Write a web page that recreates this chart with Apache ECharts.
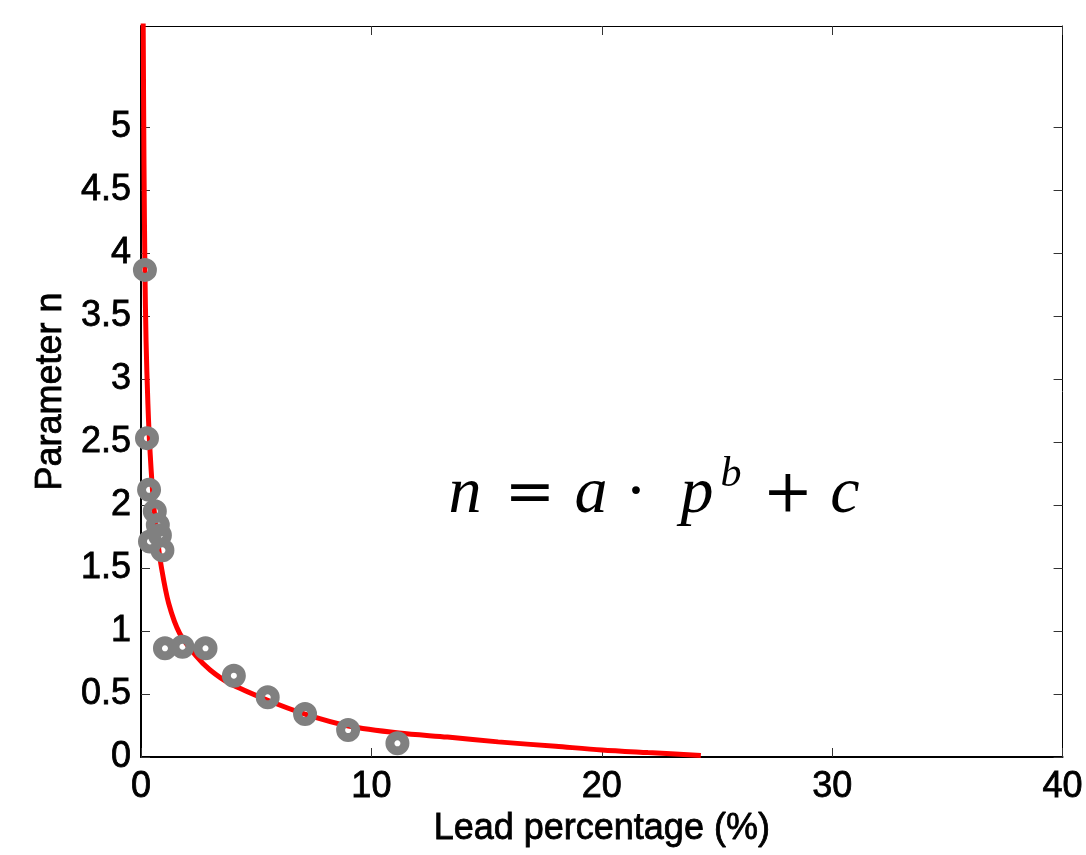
<!DOCTYPE html>
<html style="height: 100%">
<head>
  <meta charset="utf-8">
  <title>Parameter n vs lead percentage</title>
  <script src="https://cdn.jsdelivr.net/npm/echarts@6/dist/echarts.min.js"></script>
</head>
<body style="margin: 0">
  <div id="container" style="height: 855px; width: 1086px;"></div>
  <script type="text/javascript">

// measured points: [lead %, n]
var measured = [
  [0.17, 3.865], [0.26, 2.53], [0.35, 2.12], [0.60, 1.95],
  [0.73, 1.84], [0.82, 1.76], [0.39, 1.71], [0.93, 1.64],
  [1.04, 0.862], [1.80, 0.875], [2.80, 0.862], [4.03, 0.645],
  [5.50, 0.474], [7.12, 0.341], [8.99, 0.214], [11.13, 0.109]
];

// fitted curve
var fitCurve = [
  [0.08, 6.4], [0.095, 5.8], [0.13, 4.7], [0.17, 3.87], [0.22, 3.3],
  [0.30, 2.8], [0.40, 2.4], [0.55, 2.0], [0.70, 1.75], [0.89, 1.5],
  [1.2, 1.22], [1.68, 0.98], [2.4, 0.80], [3.0, 0.69], [3.84, 0.585],
  [5.5, 0.45], [7.12, 0.34], [9.0, 0.246], [11.2, 0.19], [13.3, 0.158],
  [15.5, 0.12], [18.0, 0.085], [20.0, 0.056], [22.0, 0.035], [24.3, 0.012]
];

var xTicks = [0, 10, 20, 30, 40];
var yTicks = [0, 0.5, 1, 1.5, 2, 2.5, 3, 3.5, 4, 4.5, 5];

var xTitle = 'Lead percentage (%)';
var yTitle = 'Parameter n';

var dom = document.getElementById('container');
var myChart = echarts.init(dom);

var labelFont = 'Liberation Sans, Arial, sans-serif';
var textStyle = {
  fontFamily: labelFont, fontSize: 36, color: '#000',
  textBorderColor: '#000', textBorderWidth: 0.8
};

// formula glyphs: [text, centre x, font, size, italic, dy]
var formula = [
  ['n', 465, 'Liberation Serif', 66, true, 0],
  ['=', 530, 'DejaVu Serif', 60, false, 0],
  ['a', 591, 'Liberation Serif', 66, true, 0],
  ['\u00b7', 636, 'DejaVu Serif', 60, false, 0],
  ['p', 697, 'Liberation Serif', 66, true, 0],
  ['b', 731, 'Liberation Serif', 42, true, -20],
  ['+', 788, 'DejaVu Serif', 60, false, 0],
  ['c', 845, 'Liberation Serif', 66, true, 0]
];

var graphics = formula.map(function (g) {
  return {
    type: 'text',
    x: g[1],
    y: 495 + g[5],
    z: 10,
    style: {
      text: g[0],
      fill: '#000',
      font: (g[4] ? 'italic ' : '') + g[3] + 'px "' + g[2] + '"',
      align: 'center',
      verticalAlign: 'middle'
    }
  };
});

function tickStyle() {
  return { inside: true, length: 9, lineStyle: { color: '#333', width: 1 } };
}

var option = {
  animation: false,
  grid: { left: 141, top: 26, right: 18, bottom: 98 },
  graphic: graphics,
  xAxis: [{
    type: 'value',
    position: 'bottom',
    min: 0, max: 40, interval: 10,
    name: xTitle,
    nameLocation: 'middle',
    nameGap: 52,
    nameTextStyle: textStyle,
    axisLine: { show: true, onZero: false, lineStyle: { color: '#000', width: 2 } },
    axisTick: Object.assign(tickStyle(), { customValues: xTicks }),
    axisLabel: Object.assign({ margin: 12, customValues: xTicks }, textStyle),
    splitLine: { show: false }
  }, {
    type: 'value',
    position: 'top',
    min: 0, max: 40, interval: 10,
    axisLine: { show: true, onZero: false, lineStyle: { color: '#000', width: 1 } },
    axisTick: Object.assign(tickStyle(), { customValues: xTicks }),
    axisLabel: { show: false },
    splitLine: { show: false }
  }],
  yAxis: [{
    type: 'value',
    position: 'left',
    min: 0, max: 5.8, interval: 0.5,
    name: yTitle,
    nameLocation: 'middle',
    nameGap: 68,
    nameTextStyle: textStyle,
    axisLine: { show: true, onZero: false, lineStyle: { color: '#000', width: 2 } },
    axisTick: Object.assign(tickStyle(), { customValues: yTicks }),
    axisLabel: Object.assign({ margin: 10, customValues: yTicks }, textStyle),
    splitLine: { show: false }
  }, {
    type: 'value',
    position: 'right',
    min: 0, max: 5.8, interval: 0.5,
    axisLine: { show: true, onZero: false, lineStyle: { color: '#000', width: 1 } },
    axisTick: Object.assign(tickStyle(), { customValues: yTicks }),
    axisLabel: { show: false },
    splitLine: { show: false }
  }],
  series: [{
    name: 'fit',
    type: 'line',
    data: fitCurve,
    smooth: 0.3,
    showSymbol: false,
    clip: true,
    lineStyle: { color: '#ff0000', width: 5 },
    z: 2
  }, {
    name: 'measured',
    type: 'scatter',
    data: measured,
    symbol: 'circle',
    symbolSize: 15,
    itemStyle: { color: 'rgba(0,0,0,0)', borderColor: '#808080', borderWidth: 9, opacity: 1 },
    z: 3
  }]
};

myChart.setOption(option, true);
  </script>
</body>
</html>
